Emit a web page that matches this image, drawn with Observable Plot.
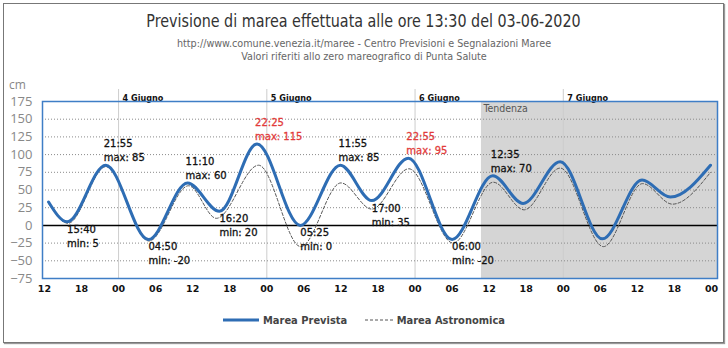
<!DOCTYPE html>
<html><head><meta charset="utf-8">
<script src="https://cdn.jsdelivr.net/npm/d3@7"></script>
<script src="https://cdn.jsdelivr.net/npm/@observablehq/plot@0.6"></script>
<style>
body{margin:0;width:728px;height:348px;position:relative;background:#fff;overflow:hidden;font-family:"Liberation Sans Narrow","DejaVu Sans Condensed",sans-serif;}
#box{position:absolute;left:3px;top:3px;width:719px;height:338px;border:1px solid #777;box-shadow:1px 1px 1px #999;}
#title{position:absolute;top:10px;left:0;width:728px;text-align:center;font-size:18.5px;color:#333;}
#title span{display:inline-block;transform:scaleX(0.86);transform-origin:center;white-space:nowrap;}
#sub{position:absolute;top:38px;left:0;width:728px;text-align:center;font-size:10.7px;line-height:12.5px;color:#666;}
#cm{position:absolute;left:9px;top:76px;font-family:"Open Sans",sans-serif;font-size:12px;color:#888;}
#chart{position:absolute;left:0;top:78px;}
#legend{position:absolute;top:313px;left:0;width:728px;text-align:center;font-size:11px;font-weight:bold;color:#444;}
#legend span.item{display:inline-flex;align-items:center;margin:0 7px;}
#legend svg{margin-right:4px;}
</style></head>
<body>
<div id="box"></div>
<div id="title"><span>Previsione di marea effettuata alle ore 13:30 del 03-06-2020</span></div>
<div id="sub">http://www.comune.venezia.it/maree - Centro Previsioni e Segnalazioni Maree<br>Valori riferiti allo zero mareografico di Punta Salute</div>
<div id="cm">cm</div>
<div id="chart"></div>
<div id="legend">
<span class="item"><svg width="36" height="6"><line x1="0" y1="3" x2="36" y2="3" stroke="#2e6db4" stroke-width="3"/></svg>Marea Prevista</span>
<span class="item"><svg width="28" height="6"><line x1="0" y1="3" x2="28" y2="3" stroke="#555" stroke-width="1" stroke-dasharray="3,2"/></svg>Marea Astronomica</span>
</div>
<script>
const parse = d3.utcParse("%Y-%m-%d %H:%M");

// Marea Prevista (forecast) – turning points
const prevTimes = ["2020-06-03 12:40","2020-06-03 15:40","2020-06-03 21:55","2020-06-04 04:50","2020-06-04 11:10","2020-06-04 16:20","2020-06-04 22:25","2020-06-05 05:25","2020-06-05 11:55","2020-06-05 17:00","2020-06-05 22:55","2020-06-06 06:00","2020-06-06 12:35","2020-06-06 17:30","2020-06-06 23:30","2020-06-07 06:20","2020-06-07 12:45","2020-06-07 17:20","2020-06-07 23:50"];
const prevValues = [33,5,85,-20,60,20,115,0,85,35,95,-20,70,31,90,-19,64,40,85];

// Marea Astronomica
const astroTimes = ["2020-06-03 12:40","2020-06-03 15:50","2020-06-03 21:55","2020-06-04 04:55","2020-06-04 11:20","2020-06-04 15:50","2020-06-04 22:40","2020-06-05 05:30","2020-06-05 12:00","2020-06-05 17:00","2020-06-05 23:00","2020-06-06 06:10","2020-06-06 12:40","2020-06-06 17:40","2020-06-06 23:30","2020-06-07 06:30","2020-06-07 12:50","2020-06-07 17:40","2020-06-07 23:50"];
const astroValues = [31,3,83,-22,56,10,85,-30,60,23,80,-25,61,22,81,-30,59,30,75];

// Labelled extremes
const extTimes = ["2020-06-03 15:40","2020-06-03 21:55","2020-06-04 04:50","2020-06-04 11:10","2020-06-04 16:20","2020-06-04 22:25","2020-06-05 05:25","2020-06-05 11:55","2020-06-05 17:00","2020-06-05 22:55","2020-06-06 06:00","2020-06-06 12:35"];
const extValues = [5,85,-20,60,20,115,0,85,35,95,-20,70];
const extKinds = ["min","max","min","max","min","max","min","max","min","max","min","max"];

const dayDates = ["2020-06-04 00:00","2020-06-05 00:00","2020-06-06 00:00","2020-06-07 00:00"];
const dayLabels = ["4 Giugno","5 Giugno","6 Giugno","7 Giugno"];
const yTicks = [-75,-50,-25,0,25,50,75,100,125,150,175];
const gridValues = [-50,-25,25,50,75,100,125,150];
const tendenzaStart = "2020-06-06 10:45";
const xDomain = ["2020-06-03 11:41","2020-06-08 00:58"];

const prev = prevTimes.map((t,i)=>({t:parse(t), v:prevValues[i]}));
const astro = astroTimes.map((t,i)=>({t:parse(t), v:astroValues[i]}));
const ext = extTimes.map((t,i)=>({t:parse(t), v:extValues[i], kind:extKinds[i],
  label: t.slice(11) + "\n" + extKinds[i] + ": " + extValues[i]}));
const days = dayDates.map((d,i)=>({t:parse(d), label:dayLabels[i]}));
const tend = [{x1:parse(tendenzaStart), x2:parse(xDomain[1])}];

const red = "#e23b3b";
const chart = Plot.plot({
  width:728, height:225,
  marginLeft:42, marginRight:11, marginTop:23, marginBottom:25,
  x:{type:"utc", domain:xDomain.map(parse)},
  y:{domain:[-75,175]},
  style:{fontFamily:"DejaVu Sans, sans-serif", overflow:"visible", background:"transparent"},
  marks:[
    Plot.rect(tend, {x1:"x1", x2:"x2", fill:"#d5d5d5"}),
    Plot.text(tend, {x:"x1", text:()=>"Tendenza", frameAnchor:"top", textAnchor:"start", lineAnchor:"top", dx:2, dy:3, fill:"#555", fontSize:10.5, fontFamily:"Liberation Sans Narrow, DejaVu Sans Condensed, sans-serif"}),
    Plot.ruleX(days, {x:"t", stroke:"#cdcdcd", strokeWidth:1, insetTop:-12}),
    Plot.ruleY(gridValues, {stroke:"#8a8a8a", strokeDasharray:"1,2", strokeWidth:1}),
    Plot.ruleY([0], {stroke:"#000", strokeWidth:1.5}),
    Plot.line(astro, {x:"t", y:"v", curve:"monotone-x", stroke:"#555", strokeWidth:1, strokeDasharray:"3,2"}),
    Plot.line(prev, {x:"t", y:"v", curve:"monotone-x", stroke:"#2e6db4", strokeWidth:3}),
    Plot.text(ext.filter(d=>d.kind==="max"), {x:"t", y:"v", text:"label", textAnchor:"start", lineAnchor:"bottom", lineHeight:1.4, dx:-2, dy:-4, fontSize:10, fill:d=>d.v>=90?red:"#111", stroke:d=>d.v>=90?red:"#111", strokeWidth:0.3}),
    Plot.text(ext.filter(d=>d.kind==="min"), {x:"t", y:"v", text:"label", textAnchor:"start", lineAnchor:"top", lineHeight:1.4, dx:0, dy:1, fontSize:10, fill:"#111", stroke:"#111", strokeWidth:0.3}),
    Plot.text(days, {x:"t", text:"label", frameAnchor:"top", textAnchor:"start", lineAnchor:"bottom", dx:4, dy:-1, fontSize:9, fontWeight:"bold", fill:"#111", fontFamily:"Liberation Sans Narrow, DejaVu Sans Condensed, sans-serif"}),
    Plot.frame({stroke:"#3f7ec6", strokeWidth:1.5}),
    Plot.axisX({ticks:d3.utcHour.every(6), tickFormat:d3.utcFormat("%H"), tickSize:0, tickPadding:7, fontWeight:"bold", fontSize:9.5, fill:"#111", label:null}),
    Plot.axisY({ticks:yTicks, tickSize:0, tickPadding:10, fontSize:13, fill:"#888", label:null, fontFamily:"Open Sans, sans-serif"})
  ]
});
document.getElementById("chart").appendChild(chart);
</script>
</body></html>
